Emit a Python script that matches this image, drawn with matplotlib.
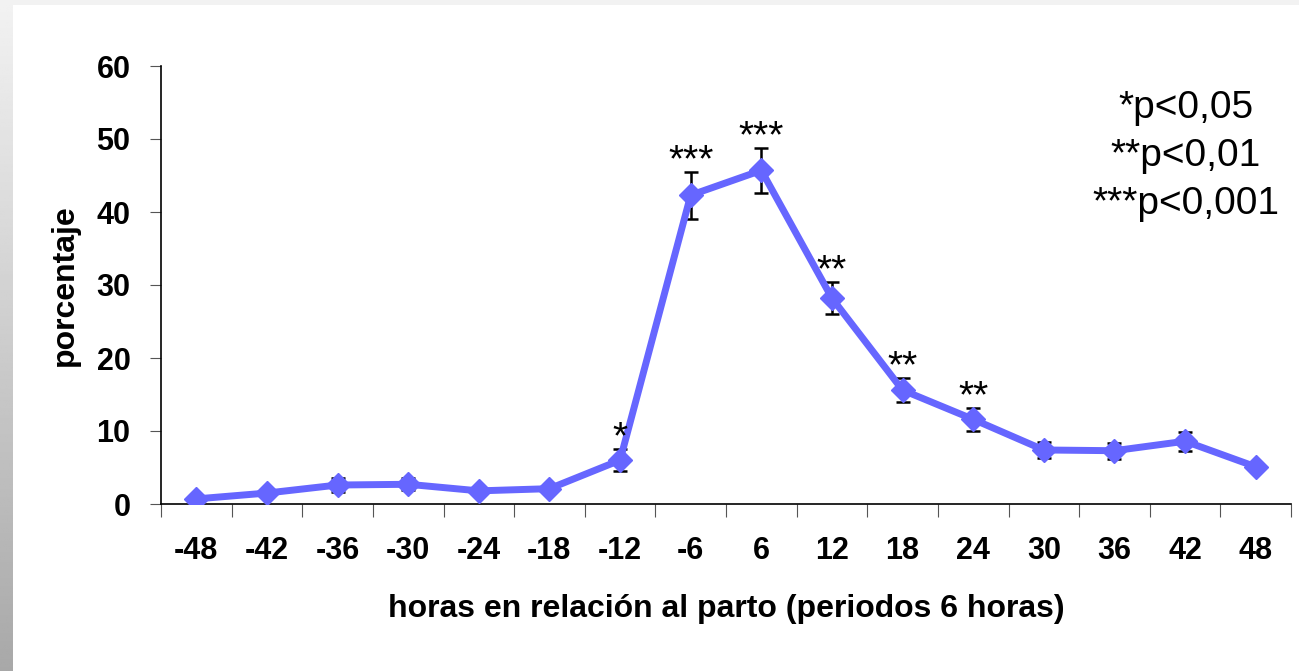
import numpy as np
import matplotlib
matplotlib.use("Agg")
import matplotlib.pyplot as plt

plt.rcParams['font.family'] = ['Liberation Sans', 'DejaVu Sans']

# data
horas = ["-48", "-42", "-36", "-30", "-24", "-18", "-12", "-6",
         "6", "12", "18", "24", "30", "36", "42", "48"]
porcentaje = [0.7, 1.5, 2.6, 2.7, 1.8, 2.1, 6.0, 42.3,
              45.7, 28.2, 15.6, 11.6, 7.4, 7.3, 8.6, 5.1]
error = [0.2, 0.3, 1.0, 0.8, 0.3, 0.4, 1.5, 3.2,
         3.1, 2.2, 1.6, 1.6, 1.1, 1.1, 1.3, 0.5]
signif = ["", "", "", "", "", "", "*", "***",
          "***", "**", "**", "**", "", "", "", ""]
leyenda = ["*p<0,05", "**p<0,01", "***p<0,001"]

W, H = 1299, 671
fig = plt.figure(figsize=(W / 100, H / 100), dpi=100)

# gray frame (top strip and left gradient)
bg = fig.add_axes([0, 0, 1, 1], zorder=-10)
bg.set_axis_off()
bg.axhspan(0, 5, color="#f2f2f2", lw=0)
grad = np.linspace(0.95, 0.66, 256).reshape(-1, 1)
bg.imshow(grad, cmap="gray", vmin=0, vmax=1, extent=[0, 13, H, 0], aspect="auto")
bg.set_xlim(0, W)
bg.set_ylim(H, 0)

ax = fig.add_axes([161 / W, 1 - 504 / H, (1291 - 161) / W, (504 - 66) / H])
x = np.arange(len(horas))

ax.errorbar(x, porcentaje, yerr=error, fmt="none", ecolor="black",
            elinewidth=1.8, capsize=5, capthick=1.8, zorder=2)
ax.plot(x, porcentaje, color="#6666ff", lw=5, marker="D", markersize=12,
        zorder=3)

for xi, yi, ei, s in zip(x, porcentaje, error, signif):
    if s:
        ax.text(xi, yi + ei - 1.0, s, ha="center", va="bottom", fontsize=28,
                zorder=4)

ax.set_xlim(-0.5, len(horas) - 0.5)
ax.set_ylim(0, 60)
ax.set_yticks(np.arange(0, 61, 10))
ax.set_xticks(np.arange(-0.5, len(horas), 1))
ax.set_xticklabels([])
ax.set_xticks(x, minor=True)
ax.set_xticklabels(horas, minor=True, fontsize=22, fontweight="bold")
ax.tick_params(axis="x", which="major", direction="out", length=9, color="#555555")
ax.tick_params(axis="x", which="minor", length=0, pad=23)
ax.tick_params(axis="y", direction="out", length=8, color="#555555", pad=14)
for lab in ax.get_yticklabels():
    lab.set_fontsize(22)
    lab.set_fontweight("bold")

ax.spines["top"].set_visible(False)
ax.spines["right"].set_visible(False)
ax.spines["left"].set_linewidth(1.2)
ax.spines["bottom"].set_linewidth(1.2)

ax.set_ylabel("porcentaje", fontsize=23, fontweight="bold", labelpad=12)
ax.set_xlabel("horas en relación al parto (periodos 6 horas)", fontsize=23,
              fontweight="bold", labelpad=20)

fig.text(1186 / W, 1 - 90 / H, "\n".join(leyenda), ha="center", va="top",
         fontsize=28, multialignment="center", linespacing=1.42)

fig.savefig("out.png", dpi=100)
